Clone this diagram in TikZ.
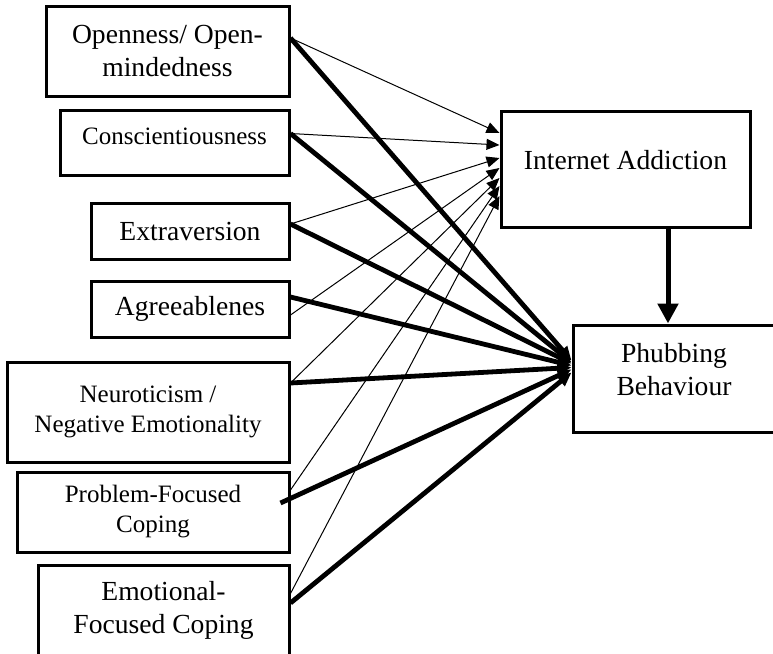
\documentclass[tikz,border=0pt]{standalone}
\usepackage{fontspec}
\setmainfont{Liberation Serif}
\usetikzlibrary{arrows.meta}
\tikzset{
    box/.style={rectangle, draw, line width=1.5pt, inner sep=1mm, align=center},
    bigtext/.style={font=\fontsize{13.8}{16.5}\selectfont},
    smalltext/.style={font=\fontsize{12.5}{15}\selectfont},
    thinarr/.style={line width=0.5pt, -{Triangle[length=6.5pt, width=5.5pt]}},
    thickarr/.style={line width=2.4pt, -{Triangle[length=7pt, width=6pt]}}
}

\begin{document}
\begin{tikzpicture}[x=0.5pt, y=-0.5pt]
  \useasboundingbox (0, 0) rectangle (773, 654);

  \node (open) [box, bigtext, minimum width=121.5pt, minimum height=45pt] at (167.5, 51) {Openness/ Open-\\mindedness};
  \node (cons) [box, smalltext, minimum width=114.5pt, minimum height=32.5pt, text depth=6pt] at (174.5, 142.5) {Conscientiousness};
  \node (extra) [box, bigtext, minimum width=99pt, minimum height=28pt] at (190, 231) {Extraversion};
  \node (agree) [box, bigtext, minimum width=99pt, minimum height=28pt] at (190, 309) {Agreeablenes};
  \node (neuro) [box, smalltext, minimum width=141pt, minimum height=50pt] at (148, 412) {Neuroticism /\\Negative Emotionality};
  \node (prob) [box, smalltext, minimum width=136pt, minimum height=40pt] at (153, 512) {Problem-Focused\\Coping};
  \node (emo) [box, bigtext, minimum width=125.5pt, minimum height=45.5pt] at (163.5, 610.5) {Emotional-\\Focused Coping};

  \node (ia) [box, bigtext, minimum width=124.5pt, minimum height=58pt, text depth=9pt] at (625.5, 169) {Internet Addiction};
  \node (phub) [box, bigtext, minimum width=101pt, minimum height=53.5pt, text depth=9.5pt] at (674, 378.5) {Phubbing\\Behaviour};

  % paths to internet addiction
  \draw ([yshift=6.5pt]open.east) edge [thinarr] ([yshift=18pt]ia.west);
  \draw ([yshift=4.5pt]cons.east) edge [thinarr] ([yshift=12pt]ia.west);
  \draw ([yshift=3.5pt]extra.east) edge [thinarr] ([yshift=5.5pt]ia.west);
  \draw ([yshift=-3pt]agree.east) edge [thinarr] ([yshift=0.5pt]ia.west);
  \draw ([yshift=14.5pt]neuro.east) edge [thinarr] ([yshift=-4.5pt]ia.west);
  \draw ([yshift=11pt]prob.east) edge [thinarr] ([yshift=-8.5pt]ia.west);
  \draw ([yshift=8.5pt]emo.east) edge [thinarr] ([yshift=-13.5pt]ia.west);

  % paths to phubbing
  \draw ([yshift=6.5pt]open.east) edge [thickarr] ([yshift=9pt]phub.west);
  \draw ([yshift=4.5pt]cons.east) edge [thickarr] ([yshift=8pt]phub.west);
  \draw ([yshift=3.5pt]extra.east) edge [thickarr] ([yshift=7.5pt]phub.west);
  \draw ([yshift=6pt]agree.east) edge [thickarr] ([yshift=6.5pt]phub.west);
  \draw ([yshift=14.5pt]neuro.east) edge [thickarr] ([yshift=5.5pt]phub.west);
  \draw ([xshift=-5pt, yshift=4.5pt]prob.east) edge [thickarr] ([yshift=4.5pt]phub.west);
  \draw ([yshift=3.75pt]emo.east) edge [thickarr] ([yshift=3pt]phub.west);

  \draw ([xshift=-3pt]phub.north |- ia.south) edge [thickarr, line width=2.5pt, -{Triangle[length=10pt, width=10pt]}] ([xshift=-3pt]phub.north);
\end{tikzpicture}
\end{document}
